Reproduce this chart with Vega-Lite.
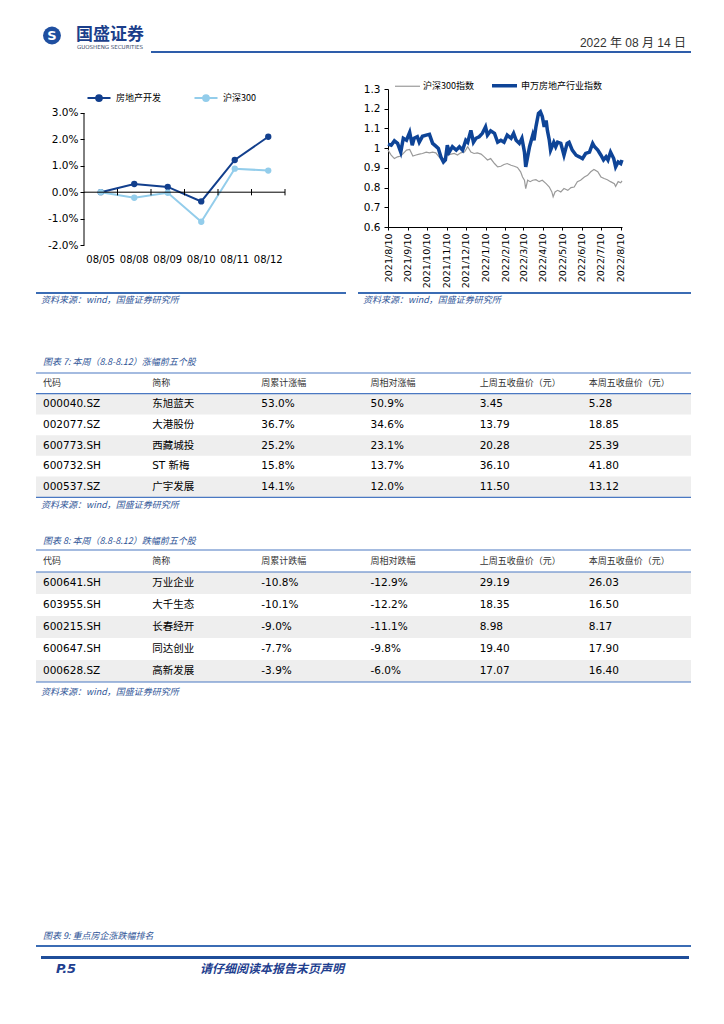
{
"$schema": "https://vega.github.io/schema/vega-lite/v6.json",
"background": "white",
"padding": {"left": 35, "top": 0, "right": 0, "bottom": 0},
"spacing": 0,
"config": {"view": {"stroke": null}, "font": "Noto Sans CJK SC", "concat": {"spacing": 0}},
"resolve": {"scale": {"color": "independent", "strokeWidth": "independent"}, "legend": {"color": "independent", "strokeWidth": "independent"}},
"datasets": {
"left": [
{"date":"08/05","s":"房地产开发","v":0},
{"date":"08/08","s":"房地产开发","v":0.0031},
{"date":"08/09","s":"房地产开发","v":0.002},
{"date":"08/10","s":"房地产开发","v":-0.0035},
{"date":"08/11","s":"房地产开发","v":0.0122},
{"date":"08/12","s":"房地产开发","v":0.021},
{"date":"08/05","s":"沪深300","v":0},
{"date":"08/08","s":"沪深300","v":-0.0021},
{"date":"08/09","s":"沪深300","v":-0.0002},
{"date":"08/10","s":"沪深300","v":-0.0112},
{"date":"08/11","s":"沪深300","v":0.0089},
{"date":"08/12","s":"沪深300","v":0.0082}
],
"idx": [
{"d":"2021-08-10","s":"沪深300指数","v":0.99},
{"d":"2021-08-15","s":"沪深300指数","v":0.965},
{"d":"2021-08-20","s":"沪深300指数","v":0.947},
{"d":"2021-08-25","s":"沪深300指数","v":0.956},
{"d":"2021-08-30","s":"沪深300指数","v":0.96},
{"d":"2021-09-05","s":"沪深300指数","v":0.98},
{"d":"2021-09-08","s":"沪深300指数","v":0.99},
{"d":"2021-09-13","s":"沪深300指数","v":0.993},
{"d":"2021-09-18","s":"沪深300指数","v":0.96},
{"d":"2021-09-23","s":"沪深300指数","v":0.965},
{"d":"2021-09-28","s":"沪深300指数","v":0.97},
{"d":"2021-10-03","s":"沪深300指数","v":0.973},
{"d":"2021-10-09","s":"沪深300指数","v":0.98},
{"d":"2021-10-14","s":"沪深300指数","v":0.976},
{"d":"2021-10-19","s":"沪深300指数","v":0.98},
{"d":"2021-10-24","s":"沪深300指数","v":0.976},
{"d":"2021-10-29","s":"沪深300指数","v":0.956},
{"d":"2021-11-03","s":"沪深300指数","v":0.94},
{"d":"2021-11-06","s":"沪深300指数","v":0.947},
{"d":"2021-11-11","s":"沪深300指数","v":0.965},
{"d":"2021-11-17","s":"沪深300指数","v":0.97},
{"d":"2021-11-22","s":"沪深300指数","v":0.973},
{"d":"2021-11-27","s":"沪深300指数","v":0.965},
{"d":"2021-12-02","s":"沪深300指数","v":0.976},
{"d":"2021-12-08","s":"沪深300指数","v":0.98},
{"d":"2021-12-13","s":"沪深300指数","v":1.007},
{"d":"2021-12-18","s":"沪深300指数","v":0.98},
{"d":"2021-12-23","s":"沪深300指数","v":0.973},
{"d":"2021-12-28","s":"沪深300指数","v":0.976},
{"d":"2022-01-03","s":"沪深300指数","v":0.97},
{"d":"2022-01-08","s":"沪深300指数","v":0.956},
{"d":"2022-01-13","s":"沪深300指数","v":0.94},
{"d":"2022-01-18","s":"沪深300指数","v":0.947},
{"d":"2022-01-24","s":"沪深300指数","v":0.922},
{"d":"2022-01-29","s":"沪深300指数","v":0.905},
{"d":"2022-02-03","s":"沪深300指数","v":0.908},
{"d":"2022-02-08","s":"沪深300指数","v":0.917},
{"d":"2022-02-13","s":"沪深300指数","v":0.922},
{"d":"2022-02-19","s":"沪深300指数","v":0.913},
{"d":"2022-02-24","s":"沪深300指数","v":0.908},
{"d":"2022-03-01","s":"沪深300指数","v":0.902},
{"d":"2022-03-06","s":"沪深300指数","v":0.88},
{"d":"2022-03-09","s":"沪深300指数","v":0.854},
{"d":"2022-03-12","s":"沪深300指数","v":0.837},
{"d":"2022-03-14","s":"沪深300指数","v":0.795},
{"d":"2022-03-17","s":"沪深300指数","v":0.837},
{"d":"2022-03-21","s":"沪深300指数","v":0.83},
{"d":"2022-03-25","s":"沪深300指数","v":0.837},
{"d":"2022-03-30","s":"沪深300指数","v":0.84},
{"d":"2022-04-04","s":"沪深300指数","v":0.83},
{"d":"2022-04-09","s":"沪深300指数","v":0.837},
{"d":"2022-04-15","s":"沪深300指数","v":0.82},
{"d":"2022-04-20","s":"沪深300指数","v":0.803},
{"d":"2022-04-24","s":"沪深300指数","v":0.778},
{"d":"2022-04-26","s":"沪深300指数","v":0.753},
{"d":"2022-04-29","s":"沪深300指数","v":0.778},
{"d":"2022-05-03","s":"沪深300指数","v":0.786},
{"d":"2022-05-08","s":"沪深300指数","v":0.778},
{"d":"2022-05-13","s":"沪深300指数","v":0.795},
{"d":"2022-05-19","s":"沪深300指数","v":0.786},
{"d":"2022-05-24","s":"沪深300指数","v":0.8},
{"d":"2022-05-29","s":"沪深300指数","v":0.803},
{"d":"2022-06-03","s":"沪深300指数","v":0.83},
{"d":"2022-06-08","s":"沪深300指数","v":0.837},
{"d":"2022-06-14","s":"沪深300指数","v":0.854},
{"d":"2022-06-19","s":"沪深300指数","v":0.862},
{"d":"2022-06-24","s":"沪深300指数","v":0.88},
{"d":"2022-06-29","s":"沪深300指数","v":0.892},
{"d":"2022-07-05","s":"沪深300指数","v":0.88},
{"d":"2022-07-10","s":"沪深300指数","v":0.854},
{"d":"2022-07-15","s":"沪深300指数","v":0.846},
{"d":"2022-07-20","s":"沪深300指数","v":0.84},
{"d":"2022-07-25","s":"沪深300指数","v":0.83},
{"d":"2022-07-31","s":"沪深300指数","v":0.82},
{"d":"2022-08-02","s":"沪深300指数","v":0.806},
{"d":"2022-08-06","s":"沪深300指数","v":0.83},
{"d":"2022-08-10","s":"沪深300指数","v":0.824},
{"d":"2022-08-12","s":"沪深300指数","v":0.834},
{"d":"2021-08-10","s":"申万房地产行业指数","v":1.02},
{"d":"2021-08-15","s":"申万房地产行业指数","v":1.015},
{"d":"2021-08-20","s":"申万房地产行业指数","v":1.037},
{"d":"2021-08-25","s":"申万房地产行业指数","v":1.024},
{"d":"2021-08-30","s":"申万房地产行业指数","v":0.98},
{"d":"2021-09-03","s":"申万房地产行业指数","v":1.05},
{"d":"2021-09-08","s":"申万房地产行业指数","v":1.04},
{"d":"2021-09-13","s":"申万房地产行业指数","v":1.08},
{"d":"2021-09-17","s":"申万房地产行业指数","v":1.015},
{"d":"2021-09-20","s":"申万房地产行业指数","v":1.05},
{"d":"2021-09-25","s":"申万房地产行业指数","v":1.058},
{"d":"2021-09-28","s":"申万房地产行业指数","v":1.03},
{"d":"2021-10-03","s":"申万房地产行业指数","v":1.06},
{"d":"2021-10-09","s":"申万房地产行业指数","v":1.066},
{"d":"2021-10-14","s":"申万房地产行业指数","v":1.07},
{"d":"2021-10-19","s":"申万房地产行业指数","v":1.024},
{"d":"2021-10-24","s":"申万房地产行业指数","v":1.01},
{"d":"2021-10-28","s":"申万房地产行业指数","v":0.998},
{"d":"2021-11-01","s":"申万房地产行业指数","v":0.955},
{"d":"2021-11-05","s":"申万房地产行业指数","v":0.93},
{"d":"2021-11-08","s":"申万房地产行业指数","v":0.94},
{"d":"2021-11-11","s":"申万房地产行业指数","v":1.015},
{"d":"2021-11-14","s":"申万房地产行业指数","v":0.98},
{"d":"2021-11-19","s":"申万房地产行业指数","v":1.007},
{"d":"2021-11-25","s":"申万房地产行业指数","v":0.99},
{"d":"2021-11-30","s":"申万房地产行业指数","v":1.007},
{"d":"2021-12-05","s":"申万房地产行业指数","v":0.99},
{"d":"2021-12-10","s":"申万房地产行业指数","v":1.04},
{"d":"2021-12-13","s":"申万房地产行业指数","v":1.03},
{"d":"2021-12-18","s":"申万房地产行业指数","v":1.09},
{"d":"2021-12-22","s":"申万房地产行业指数","v":1.03},
{"d":"2021-12-26","s":"申万房地产行业指数","v":1.05},
{"d":"2021-12-31","s":"申万房地产行业指数","v":1.058},
{"d":"2022-01-05","s":"申万房地产行业指数","v":1.075},
{"d":"2022-01-10","s":"申万房地产行业指数","v":1.108},
{"d":"2022-01-13","s":"申万房地产行业指数","v":1.066},
{"d":"2022-01-18","s":"申万房地产行业指数","v":1.088},
{"d":"2022-01-24","s":"申万房地产行业指数","v":1.075},
{"d":"2022-01-29","s":"申万房地产行业指数","v":1.03},
{"d":"2022-02-03","s":"申万房地产行业指数","v":1.04},
{"d":"2022-02-08","s":"申万房地产行业指数","v":1.03},
{"d":"2022-02-13","s":"申万房地产行业指数","v":1.066},
{"d":"2022-02-19","s":"申万房地产行业指数","v":1.05},
{"d":"2022-02-23","s":"申万房地产行业指数","v":1.075},
{"d":"2022-02-27","s":"申万房地产行业指数","v":1.04},
{"d":"2022-03-04","s":"申万房地产行业指数","v":1.024},
{"d":"2022-03-08","s":"申万房地产行业指数","v":1.05},
{"d":"2022-03-12","s":"申万房地产行业指数","v":0.98},
{"d":"2022-03-14","s":"申万房地产行业指数","v":0.905},
{"d":"2022-03-17","s":"申万房地产行业指数","v":0.956},
{"d":"2022-03-20","s":"申万房地产行业指数","v":1.007},
{"d":"2022-03-25","s":"申万房地产行业指数","v":1.066},
{"d":"2022-03-27","s":"申万房地产行业指数","v":1.04},
{"d":"2022-03-30","s":"申万房地产行业指数","v":1.108},
{"d":"2022-04-03","s":"申万房地产行业指数","v":1.176},
{"d":"2022-04-06","s":"申万房地产行业指数","v":1.185},
{"d":"2022-04-09","s":"申万房地产行业指数","v":1.16},
{"d":"2022-04-12","s":"申万房地产行业指数","v":1.108},
{"d":"2022-04-15","s":"申万房地产行业指数","v":1.14},
{"d":"2022-04-17","s":"申万房地产行业指数","v":1.09},
{"d":"2022-04-20","s":"申万房地产行业指数","v":1.04},
{"d":"2022-04-22","s":"申万房地产行业指数","v":0.99},
{"d":"2022-04-27","s":"申万房地产行业指数","v":1.03},
{"d":"2022-04-30","s":"申万房地产行业指数","v":1.007},
{"d":"2022-05-03","s":"申万房地产行业指数","v":1.03},
{"d":"2022-05-08","s":"申万房地产行业指数","v":1.024},
{"d":"2022-05-13","s":"申万房地产行业指数","v":0.964},
{"d":"2022-05-18","s":"申万房地产行业指数","v":1.024},
{"d":"2022-05-21","s":"申万房地产行业指数","v":1.03},
{"d":"2022-05-26","s":"申万房地产行业指数","v":0.99},
{"d":"2022-06-01","s":"申万房地产行业指数","v":0.964},
{"d":"2022-06-06","s":"申万房地产行业指数","v":0.956},
{"d":"2022-06-11","s":"申万房地产行业指数","v":0.947},
{"d":"2022-06-16","s":"申万房地产行业指数","v":0.973},
{"d":"2022-06-22","s":"申万房地产行业指数","v":0.98},
{"d":"2022-06-27","s":"申万房地产行业指数","v":1.024},
{"d":"2022-06-30","s":"申万房地产行业指数","v":1.007},
{"d":"2022-07-05","s":"申万房地产行业指数","v":0.99},
{"d":"2022-07-10","s":"申万房地产行业指数","v":0.964},
{"d":"2022-07-14","s":"申万房地产行业指数","v":0.94},
{"d":"2022-07-18","s":"申万房地产行业指数","v":0.956},
{"d":"2022-07-21","s":"申万房地产行业指数","v":0.94},
{"d":"2022-07-25","s":"申万房地产行业指数","v":0.98},
{"d":"2022-07-30","s":"申万房地产行业指数","v":0.947},
{"d":"2022-08-02","s":"申万房地产行业指数","v":0.905},
{"d":"2022-08-06","s":"申万房地产行业指数","v":0.93},
{"d":"2022-08-10","s":"申万房地产行业指数","v":0.922},
{"d":"2022-08-12","s":"申万房地产行业指数","v":0.94}
],
"t7": [
{"row":"r1","code":"000040.SZ","name":"东旭蓝天","chg":"53.0%","rel":"50.9%","prev":"3.45","close":"5.28"},
{"row":"r2","code":"002077.SZ","name":"大港股份","chg":"36.7%","rel":"34.6%","prev":"13.79","close":"18.85"},
{"row":"r3","code":"600773.SH","name":"西藏城投","chg":"25.2%","rel":"23.1%","prev":"20.28","close":"25.39"},
{"row":"r4","code":"600732.SH","name":"ST 新梅","chg":"15.8%","rel":"13.7%","prev":"36.10","close":"41.80"},
{"row":"r5","code":"000537.SZ","name":"广宇发展","chg":"14.1%","rel":"12.0%","prev":"11.50","close":"13.12"}
],
"h7": [
{"col":"code","label":"代码"},{"col":"name","label":"简称"},{"col":"chg","label":"周累计涨幅"},{"col":"rel","label":"周相对涨幅"},{"col":"prev","label":"上周五收盘价（元）"},{"col":"close","label":"本周五收盘价（元）"}
],
"t8": [
{"row":"r1","code":"600641.SH","name":"万业企业","chg":"-10.8%","rel":"-12.9%","prev":"29.19","close":"26.03"},
{"row":"r2","code":"603955.SH","name":"大千生态","chg":"-10.1%","rel":"-12.2%","prev":"18.35","close":"16.50"},
{"row":"r3","code":"600215.SH","name":"长春经开","chg":"-9.0%","rel":"-11.1%","prev":"8.98","close":"8.17"},
{"row":"r4","code":"600647.SH","name":"同达创业","chg":"-7.7%","rel":"-9.8%","prev":"19.40","close":"17.90"},
{"row":"r5","code":"000628.SZ","name":"高新发展","chg":"-3.9%","rel":"-6.0%","prev":"17.07","close":"16.40"}
],
"h8": [
{"col":"code","label":"代码"},{"col":"name","label":"简称"},{"col":"chg","label":"周累计跌幅"},{"col":"rel","label":"周相对跌幅"},{"col":"prev","label":"上周五收盘价（元）"},{"col":"close","label":"本周五收盘价（元）"}
]
},
"vconcat": [
{"hconcat": [
  {"vconcat": [
    {"width": 32, "height": 25, "data": {"values": []}, "mark": "point"},
    {"width": 32, "height": 21, "data": {"values": [{"t": "S"}]}, "layer": [
      {"mark": {"type": "point", "shape": "circle", "filled": true, "size": 320, "color": "#1F4FA0", "opacity": 1}, "encoding": {}},
      {"mark": {"type": "text", "fontSize": 13, "fontWeight": "bold", "color": "white", "font": "DejaVu Sans"}, "encoding": {"text": {"field": "t"}}}
    ]}
  ], "spacing": 0},
  {"width": 83, "height": 51, "data": {"values": [{"a": "国盛证券", "b": "GUOSHENG SECURITIES"}]}, "layer": [
    {"mark": {"type": "text", "fontSize": 17, "fontWeight": "bold", "color": "#1B3F8B", "dx": 0.5, "dy": 9.5, "font": "Noto Sans CJK SC"}, "encoding": {"text": {"field": "a"}}},
    {"mark": {"type": "text", "fontSize": 5.5, "color": "#3A4A6A", "dx": 0.5, "dy": 21, "font": "DejaVu Sans"}, "encoding": {"text": {"field": "b"}}}
  ]},
  {"width": 540, "height": 51, "data": {"values": [{"t": "2022 年 08 月 14 日"}]}, "mark": {"type": "text", "align": "right", "dx": 265, "dy": 17.5, "fontSize": 12, "color": "#333333", "font": "Liberation Sans, Noto Sans CJK SC"}, "encoding": {"text": {"field": "t"}}}
], "spacing": 0},
{"hconcat": [
  {"width": 115, "height": 2, "data": {"values": []}, "mark": "point"},
  {"width": 540, "height": 2, "data": {"values": []}, "mark": "point", "view": {"fill": "#2E5DAA", "stroke": null}}
], "spacing": 0},
{"width": 655, "height": 18, "data": {"values": []}, "mark": "point"},
{"hconcat": [
  {"width": 48, "height": 203, "data": {"values": []}, "mark": "point"},
  {"width": 201, "height": 156, "data": {"name": "left"}, "layer": [
    {"mark": {"type": "line", "strokeWidth": 2, "point": {"filled": true, "size": 40}}, "encoding": {
      "x": {"field": "date", "type": "ordinal", "scale": {"type": "band", "domain": ["08/05","08/08","08/09","08/10","08/11","08/12"], "paddingInner": 0, "paddingOuter": 0}, "axis": {"title": null, "domain": false, "ticks": false, "bandPosition": 0.5, "labelAngle": 0, "labelPadding": 9, "labelColor": "#000000", "labelFont": "DejaVu Sans", "labelFontSize": 10}},
      "y": {"field": "v", "type": "quantitative", "scale": {"domain": [-0.02, 0.03909], "nice": false, "zero": false}, "axis": {"values": [-0.02, -0.01, 0, 0.01, 0.02, 0.03], "format": ".1%", "labelExpr": "replace(datum.label, '−', '-')", "labelOverlap": false, "grid": false, "title": null, "domain": false, "tickColor": "#000000", "tickSize": 4, "labelColor": "#000000", "labelFont": "DejaVu Sans", "labelFontSize": 10.5, "labelPadding": 2}},
      "color": {"field": "s", "type": "nominal", "scale": {"domain": ["房地产开发", "沪深300"], "range": ["#123F8D", "#93CDEB"]}, "legend": {"orient": "none", "legendX": 2, "legendY": -4, "title": null, "direction": "horizontal", "symbolType": "M-1,0L1,0M-0.25,0A0.25,0.25,0,1,1,0.25,0A0.25,0.25,0,1,1,-0.25,0", "symbolSize": 530, "symbolStrokeWidth": 2, "labelFont": "Noto Sans CJK SC", "labelFontSize": 9, "labelColor": "#000000", "columnPadding": 28, "labelOffset": 4, "padding": 0}}
    }},
    {"data": {"values": [{}]}, "mark": {"type": "rule", "color": "#000000", "strokeWidth": 1}, "encoding": {
      "x": {"datum": "08/05", "type": "ordinal", "bandPosition": 0, "scale": {"type": "band", "domain": ["08/05","08/08","08/09","08/10","08/11","08/12"], "paddingInner": 0, "paddingOuter": 0}, "axis": {"title": null, "domain": false, "ticks": false, "bandPosition": 0.5, "labelAngle": 0, "labelPadding": 9, "labelColor": "#000000", "labelFont": "DejaVu Sans", "labelFontSize": 10}},
      "y": {"datum": -0.02, "type": "quantitative", "scale": {"domain": [-0.02, 0.03909], "nice": false, "zero": false}, "axis": {"values": [-0.02, -0.01, 0, 0.01, 0.02, 0.03], "format": ".1%", "labelExpr": "replace(datum.label, '−', '-')", "labelOverlap": false, "grid": false, "title": null, "domain": false, "tickColor": "#000000", "tickSize": 4, "labelColor": "#000000", "labelFont": "DejaVu Sans", "labelFontSize": 10.5, "labelPadding": 2}},
      "y2": {"datum": 0.03}}},
    {"data": {"values": [{}]}, "mark": {"type": "rule", "color": "#000000", "strokeWidth": 1}, "encoding": {"y": {"datum": 0, "type": "quantitative", "scale": {"domain": [-0.02, 0.03909], "nice": false, "zero": false}, "axis": {"values": [-0.02, -0.01, 0, 0.01, 0.02, 0.03], "format": ".1%", "labelExpr": "replace(datum.label, '−', '-')", "labelOverlap": false, "grid": false, "title": null, "domain": false, "tickColor": "#000000", "tickSize": 4, "labelColor": "#000000", "labelFont": "DejaVu Sans", "labelFontSize": 10.5, "labelPadding": 2}}}},
    {"transform": [{"filter": "datum.s == '沪深300'"}], "mark": {"type": "rule", "color": "#000000", "strokeWidth": 1}, "encoding": {
      "x": {"field": "date", "type": "ordinal", "bandPosition": 1, "scale": {"type": "band", "domain": ["08/05","08/08","08/09","08/10","08/11","08/12"], "paddingInner": 0, "paddingOuter": 0}, "axis": {"title": null, "domain": false, "ticks": false, "bandPosition": 0.5, "labelAngle": 0, "labelPadding": 9, "labelColor": "#000000", "labelFont": "DejaVu Sans", "labelFontSize": 10}},
      "y": {"datum": 0.0012, "type": "quantitative", "scale": {"domain": [-0.02, 0.03909], "nice": false, "zero": false}, "axis": {"values": [-0.02, -0.01, 0, 0.01, 0.02, 0.03], "format": ".1%", "labelExpr": "replace(datum.label, '−', '-')", "labelOverlap": false, "grid": false, "title": null, "domain": false, "tickColor": "#000000", "tickSize": 4, "labelColor": "#000000", "labelFont": "DejaVu Sans", "labelFontSize": 10.5, "labelPadding": 2}},
      "y2": {"datum": -0.0012}}}
  ]},
  {"width": 103, "height": 203, "data": {"values": []}, "mark": "point"},
  {"width": 234, "height": 138, "data": {"name": "idx"}, "mark": {"type": "line"}, "encoding": {
    "x": {"field": "d", "type": "temporal", "scale": {"type": "utc", "domain": [{"year": 2021, "month": 8, "date": 10, "utc": true}, {"year": 2022, "month": 8, "date": 12, "utc": true}]}, "axis": {"values": [
      {"year": 2021, "month": 8, "date": 10, "utc": true}, {"year": 2021, "month": 9, "date": 10, "utc": true}, {"year": 2021, "month": 10, "date": 10, "utc": true}, {"year": 2021, "month": 11, "date": 10, "utc": true}, {"year": 2021, "month": 12, "date": 10, "utc": true},
      {"year": 2022, "month": 1, "date": 10, "utc": true}, {"year": 2022, "month": 2, "date": 10, "utc": true}, {"year": 2022, "month": 3, "date": 10, "utc": true}, {"year": 2022, "month": 4, "date": 10, "utc": true}, {"year": 2022, "month": 5, "date": 10, "utc": true},
      {"year": 2022, "month": 6, "date": 10, "utc": true}, {"year": 2022, "month": 7, "date": 10, "utc": true}, {"year": 2022, "month": 8, "date": 10, "utc": true}],
      "format": "%Y/%-m/%-d", "labelAngle": -90, "labelFont": "DejaVu Sans", "labelFontSize": 9.5, "labelColor": "#000000", "labelPadding": 3, "tickSize": 3, "tickColor": "#000000", "domainColor": "#000000", "grid": false, "title": null, "labelOverlap": false, "labelFlush": false, "labelBound": false}},
    "y": {"field": "v", "type": "quantitative", "scale": {"domain": [0.6, 1.3], "nice": false, "zero": false}, "axis": {"values": [0.6, 0.7, 0.8, 0.9, 1, 1.1, 1.2, 1.3], "format": "~g", "labelOverlap": false, "grid": false, "title": null, "domainColor": "#000000", "tickColor": "#000000", "tickSize": 4, "labelColor": "#000000", "labelFont": "DejaVu Sans", "labelFontSize": 10.5, "labelPadding": 4}},
    "color": {"field": "s", "type": "nominal", "scale": {"domain": ["沪深300指数", "申万房地产行业指数"], "range": ["#9A9A9A", "#0E4497"]}, "legend": {"orient": "none", "legendX": 6, "legendY": -18, "title": null, "direction": "horizontal", "symbolType": "stroke", "symbolSize": 625, "labelFont": "Noto Sans CJK SC", "labelFontSize": 9, "labelColor": "#000000", "columnPadding": 11, "labelOffset": 2, "padding": 0}},
    "strokeWidth": {"field": "s", "type": "nominal", "scale": {"type": "ordinal", "domain": ["沪深300指数", "申万房地产行业指数"], "range": [1.2, 3.5]}, "legend": {"orient": "none", "legendX": 6, "legendY": -18, "title": null, "direction": "horizontal", "symbolType": "stroke", "symbolSize": 625, "labelFont": "Noto Sans CJK SC", "labelFontSize": 9, "labelColor": "#000000", "columnPadding": 11, "labelOffset": 2, "padding": 0}}
  }}
], "spacing": 0, "bounds": "flush", "resolve": {"scale": {"color": "independent", "strokeWidth": "independent"}, "legend": {"color": "independent", "strokeWidth": "independent"}}},
{"hconcat": [
  {"width": 310, "height": 2, "data": {"values": []}, "mark": "point", "view": {"fill": "#3B6CB4", "stroke": null}},
  {"width": 12, "height": 2, "data": {"values": []}, "mark": "point"},
  {"width": 333, "height": 2, "data": {"values": []}, "mark": "point", "view": {"fill": "#3B6CB4", "stroke": null}}
], "spacing": 0},
{"hconcat": [
  {"width": 322, "height": 12, "data": {"values": [{"t": "资料来源：wind，国盛证券研究所"}]}, "mark": {"type": "text", "align": "left", "dx": -156, "fontSize": 9, "fontStyle": "italic", "color": "#2F5597", "font": "Noto Sans CJK SC"}, "encoding": {"text": {"field": "t"}}},
  {"width": 333, "height": 12, "data": {"values": [{"t": "资料来源：wind，国盛证券研究所"}]}, "mark": {"type": "text", "align": "left", "dx": -161.5, "fontSize": 9, "fontStyle": "italic", "color": "#2F5597", "font": "Noto Sans CJK SC"}, "encoding": {"text": {"field": "t"}}}
], "spacing": 0},
{"width": 655, "height": 49, "data": {"values": []}, "mark": "point"},
{"width": 655, "height": 14, "data": {"values": [{"t": "图表 7: 本周（8.8-8.12）涨幅前五个股"}]}, "mark": {"type": "text", "align": "left", "dx": -320.5, "fontSize": 9, "fontStyle": "italic", "color": "#2F5597", "font": "Noto Sans CJK SC"}, "encoding": {"text": {"field": "t"}}},
{"width": 655, "height": 3, "data": {"values": []}, "mark": "point"},
{"width": 655, "height": 145, "data": {"name": "t7"},
 "layer": [
  {"transform": [{"filter": {"field": "row", "oneOf": ["r1", "r3", "r5"]}}], "mark": {"type": "rect", "color": "#EEEEEE"}, "encoding": {"y": {"field": "row", "type": "ordinal", "scale": {"domain": ["hdr", "r1", "r2", "r3", "r4", "r5", "src"], "paddingInner": 0, "paddingOuter": 0}, "axis": null}}},
  {"data": {"values": [{}]}, "mark": {"type": "rule", "color": "#4A78C2", "strokeWidth": 1.2}, "encoding": {"y": {"datum": "hdr", "type": "ordinal", "bandPosition": 0, "scale": {"domain": ["hdr", "r1", "r2", "r3", "r4", "r5", "src"], "paddingInner": 0, "paddingOuter": 0}, "axis": null}}},
  {"data": {"values": [{}]}, "mark": {"type": "rule", "color": "#4A78C2", "strokeWidth": 1.2}, "encoding": {"y": {"datum": "r1", "type": "ordinal", "bandPosition": 0, "scale": {"domain": ["hdr", "r1", "r2", "r3", "r4", "r5", "src"], "paddingInner": 0, "paddingOuter": 0}, "axis": null}}},
  {"data": {"values": [{}]}, "mark": {"type": "rule", "color": "#4A78C2", "strokeWidth": 1.2}, "encoding": {"y": {"datum": "r5", "type": "ordinal", "bandPosition": 1, "scale": {"domain": ["hdr", "r1", "r2", "r3", "r4", "r5", "src"], "paddingInner": 0, "paddingOuter": 0}, "axis": null}}},
  {"data": {"name": "h7"}, "mark": {"type": "text", "align": "left", "dx": 7, "fontSize": 9, "color": "#333333", "font": "Noto Sans CJK SC"}, "encoding": {
    "x": {"field": "col", "type": "nominal", "bandPosition": 0, "scale": {"type": "band", "domain": ["code", "name", "chg", "rel", "prev", "close"], "paddingInner": 0, "paddingOuter": 0}, "axis": null},
    "y": {"datum": "hdr", "type": "ordinal", "scale": {"domain": ["hdr", "r1", "r2", "r3", "r4", "r5", "src"], "paddingInner": 0, "paddingOuter": 0}, "axis": null},
    "text": {"field": "label"}}},
  {"transform": [{"fold": ["code", "name", "chg", "rel", "prev", "close"], "as": ["col", "val"]}], "mark": {"type": "text", "align": "left", "dx": 7, "fontSize": 10.5, "color": "#000000", "font": "DejaVu Sans, Noto Sans CJK SC"}, "encoding": {
    "x": {"field": "col", "type": "nominal", "bandPosition": 0, "scale": {"type": "band", "domain": ["code", "name", "chg", "rel", "prev", "close"], "paddingInner": 0, "paddingOuter": 0}, "axis": null},
    "y": {"field": "row", "type": "ordinal", "scale": {"domain": ["hdr", "r1", "r2", "r3", "r4", "r5", "src"], "paddingInner": 0, "paddingOuter": 0}, "axis": null},
    "text": {"field": "val"}}},
  {"data": {"values": [{"t": "资料来源：wind，国盛证券研究所"}]}, "mark": {"type": "text", "align": "left", "dx": 5, "dy": -3, "fontSize": 9, "fontStyle": "italic", "color": "#2F5597", "font": "Noto Sans CJK SC"}, "encoding": {
    "x": {"datum": "code", "type": "nominal", "bandPosition": 0, "scale": {"type": "band", "domain": ["code", "name", "chg", "rel", "prev", "close"], "paddingInner": 0, "paddingOuter": 0}, "axis": null},
    "y": {"datum": "src", "type": "ordinal", "scale": {"domain": ["hdr", "r1", "r2", "r3", "r4", "r5", "src"], "paddingInner": 0, "paddingOuter": 0}, "axis": null},
    "text": {"field": "t"}}}
 ]},
{"width": 655, "height": 16, "data": {"values": []}, "mark": "point"},
{"width": 655, "height": 14, "data": {"values": [{"t": "图表 8: 本周（8.8-8.12）跌幅前五个股"}]}, "mark": {"type": "text", "align": "left", "dx": -320.5, "fontSize": 9, "fontStyle": "italic", "color": "#2F5597", "font": "Noto Sans CJK SC"}, "encoding": {"text": {"field": "t"}}},
{"width": 655, "height": 1, "data": {"values": []}, "mark": "point"},
{"width": 655, "height": 154, "data": {"name": "t8"},
 "layer": [
  {"transform": [{"filter": {"field": "row", "oneOf": ["r1", "r3", "r5"]}}], "mark": {"type": "rect", "color": "#EEEEEE"}, "encoding": {"y": {"field": "row", "type": "ordinal", "scale": {"domain": ["hdr", "r1", "r2", "r3", "r4", "r5", "src"], "paddingInner": 0, "paddingOuter": 0}, "axis": null}}},
  {"data": {"values": [{}]}, "mark": {"type": "rule", "color": "#4A78C2", "strokeWidth": 1.2}, "encoding": {"y": {"datum": "hdr", "type": "ordinal", "bandPosition": 0, "scale": {"domain": ["hdr", "r1", "r2", "r3", "r4", "r5", "src"], "paddingInner": 0, "paddingOuter": 0}, "axis": null}}},
  {"data": {"values": [{}]}, "mark": {"type": "rule", "color": "#4A78C2", "strokeWidth": 1.2}, "encoding": {"y": {"datum": "r1", "type": "ordinal", "bandPosition": 0, "scale": {"domain": ["hdr", "r1", "r2", "r3", "r4", "r5", "src"], "paddingInner": 0, "paddingOuter": 0}, "axis": null}}},
  {"data": {"values": [{}]}, "mark": {"type": "rule", "color": "#4A78C2", "strokeWidth": 1.2}, "encoding": {"y": {"datum": "r5", "type": "ordinal", "bandPosition": 1, "scale": {"domain": ["hdr", "r1", "r2", "r3", "r4", "r5", "src"], "paddingInner": 0, "paddingOuter": 0}, "axis": null}}},
  {"data": {"name": "h8"}, "mark": {"type": "text", "align": "left", "dx": 7, "fontSize": 9, "color": "#333333", "font": "Noto Sans CJK SC"}, "encoding": {
    "x": {"field": "col", "type": "nominal", "bandPosition": 0, "scale": {"type": "band", "domain": ["code", "name", "chg", "rel", "prev", "close"], "paddingInner": 0, "paddingOuter": 0}, "axis": null},
    "y": {"datum": "hdr", "type": "ordinal", "scale": {"domain": ["hdr", "r1", "r2", "r3", "r4", "r5", "src"], "paddingInner": 0, "paddingOuter": 0}, "axis": null},
    "text": {"field": "label"}}},
  {"transform": [{"fold": ["code", "name", "chg", "rel", "prev", "close"], "as": ["col", "val"]}], "mark": {"type": "text", "align": "left", "dx": 7, "fontSize": 10.5, "color": "#000000", "font": "DejaVu Sans, Noto Sans CJK SC"}, "encoding": {
    "x": {"field": "col", "type": "nominal", "bandPosition": 0, "scale": {"type": "band", "domain": ["code", "name", "chg", "rel", "prev", "close"], "paddingInner": 0, "paddingOuter": 0}, "axis": null},
    "y": {"field": "row", "type": "ordinal", "scale": {"domain": ["hdr", "r1", "r2", "r3", "r4", "r5", "src"], "paddingInner": 0, "paddingOuter": 0}, "axis": null},
    "text": {"field": "val"}}},
  {"data": {"values": [{"t": "资料来源：wind，国盛证券研究所"}]}, "mark": {"type": "text", "align": "left", "dx": 5, "dy": -1, "fontSize": 9, "fontStyle": "italic", "color": "#2F5597", "font": "Noto Sans CJK SC"}, "encoding": {
    "x": {"datum": "code", "type": "nominal", "bandPosition": 0, "scale": {"type": "band", "domain": ["code", "name", "chg", "rel", "prev", "close"], "paddingInner": 0, "paddingOuter": 0}, "axis": null},
    "y": {"datum": "src", "type": "ordinal", "scale": {"domain": ["hdr", "r1", "r2", "r3", "r4", "r5", "src"], "paddingInner": 0, "paddingOuter": 0}, "axis": null},
    "text": {"field": "t"}}}
 ]},
{"width": 655, "height": 225, "data": {"values": []}, "mark": "point"},
{"width": 655, "height": 14, "data": {"values": [{"t": "图表 9: 重点房企涨跌幅排名"}]}, "mark": {"type": "text", "align": "left", "dx": -320.5, "fontSize": 9, "fontStyle": "italic", "color": "#2F5597", "font": "Noto Sans CJK SC"}, "encoding": {"text": {"field": "t"}}},
{"width": 655, "height": 2, "data": {"values": []}, "mark": "point"},
{"width": 655, "height": 2, "data": {"values": []}, "mark": "point", "view": {"fill": "#3B6CB4", "stroke": null}},
{"width": 655, "height": 9, "data": {"values": []}, "mark": "point"},
{"hconcat": [
  {"width": 5, "height": 3, "data": {"values": []}, "mark": "point"},
  {"width": 648, "height": 3, "data": {"values": []}, "mark": "point", "view": {"fill": "#1F4E9A", "stroke": null}}
], "spacing": 0},
{"hconcat": [
  {"width": 164, "height": 20, "data": {"values": [{"t": "P.5"}]}, "mark": {"type": "text", "align": "left", "dx": -62, "fontSize": 13, "fontWeight": "bold", "fontStyle": "italic", "color": "#1F3F8F", "font": "DejaVu Sans"}, "encoding": {"text": {"field": "t"}}},
  {"width": 491, "height": 20, "data": {"values": [{"t": "请仔细阅读本报告末页声明"}]}, "mark": {"type": "text", "align": "left", "dx": -245.5, "fontSize": 12, "fontWeight": "bold", "fontStyle": "italic", "color": "#1F3F8F", "font": "Noto Sans CJK SC"}, "encoding": {"text": {"field": "t"}}}
], "spacing": 0}
]
}
